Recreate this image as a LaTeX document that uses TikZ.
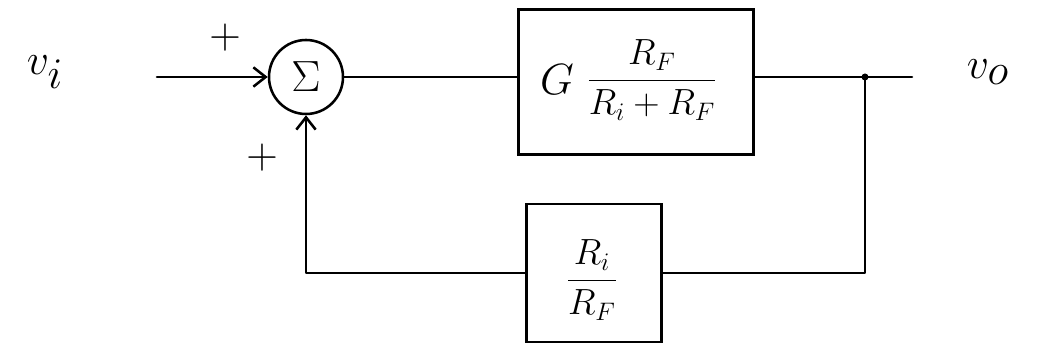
\documentclass[tikz,border=0pt]{standalone}
\usepackage{amsmath}
\usetikzlibrary{arrows.meta}
\begin{document}
\begin{tikzpicture}[x=0.02cm,y=-0.02cm,
  wire/.style={line width=1.45pt,line cap=round,line join=round},
  arr/.style={wire,-{Straight Barb[length=7pt,width=11pt,line width=1.45pt]}},
  blockbox/.style={draw,line width=1.45pt,inner sep=0pt},
  sumnode/.style={draw,circle,line width=1.45pt,minimum size=74*0.02cm,inner sep=0pt},
  sign/.style={font=\fontsize{26}{28}\selectfont},
  sigvar/.style={font=\fontsize{44}{48}\selectfont},
  gaintext/.style={font=\fontsize{21}{24}\selectfont}]
\useasboundingbox (0,0) rectangle (1039,347);

% signal labels
\node[sigvar] (vi) at (45,72) {$v_i$};
\node[sigvar] (vo) at (988,72) {$v_o$};

% summing junction
\node[sumnode] (sum) at (306,77) {\fontsize{28}{30}\selectfont$\Sigma$};
\node[sign] (p1) at (225,38) {$+$};
\node[sign] (p2) at (262,158) {$+$};

% forward block
\node[blockbox,minimum width=235*0.02cm,minimum height=145*0.02cm] (fwd) at (636,82) {};
\node[font=\fontsize{30}{32}\selectfont] (g) at (557,80) {$G$};
\node[gaintext] (gain) at (652,80) {$\dfrac{R_F}{R_i + R_F}$};

% feedback block
\node[blockbox,minimum width=135*0.02cm,minimum height=138*0.02cm] (fb) at (594,273) {};
\node[gaintext] (beta) at (592,280) {$\dfrac{R_i}{R_F}$};

% connectors
\coordinate (in) at (157,77);
\coordinate (out) at (912,77);
\coordinate (tap) at (865,77);
\draw[arr] (in) -- (sum.west);
\draw[wire] (sum.east) -- (sum.east -| fwd.west);
\draw[wire] (fwd.east |- out) -- (out);
\fill (tap) circle[radius=3.5];
\draw[wire] (tap) -- (tap |- fb.east) -- (fb.east);
\draw[arr] (fb.west) -- (sum |- fb.west) -- (sum.south);
\end{tikzpicture}
\end{document}
